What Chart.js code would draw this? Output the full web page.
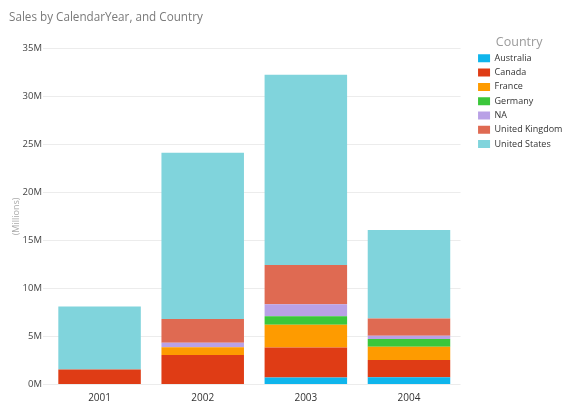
<!DOCTYPE html>
<html>
<head>
<meta charset="utf-8">
<script src="https://cdn.jsdelivr.net/npm/chart.js@4/dist/chart.umd.min.js"></script>
<style>
  html, body { margin: 0; padding: 0; background: #fff; }
  #wrap { position: relative; width: 573px; height: 411px; }
</style>
</head>
<body>
<div id="wrap"><canvas id="grafico"></canvas></div>
<script>
// valores em milhões
var anos       = ['2001', '2002', '2003', '2004'];
var australia  = [0, 0, 0.73, 0.75];
var canada     = [1.55, 3.08, 3.12, 1.81];
var franca     = [0, 0.79, 2.36, 1.38];
var alemanha   = [0, 0, 0.9, 0.8];
var na         = [0, 0.49, 1.25, 0.34];
var reinoUnido = [0, 2.46, 4.08, 1.8];
var eua        = [6.58, 17.32, 19.83, 9.22];
var ticksY     = [0, 5, 10, 15, 20, 25, 30, 35];

var FONTE = "'Segoe UI', 'Open Sans', sans-serif";

function serie(label, data, cor) {
    return {
        label: label,
        data: data,
        backgroundColor: cor,
        borderWidth: 0,
        categoryPercentage: 0.8,
        barPercentage: 1.0
    };
}

(function () {
    'use strict';

    var canvas = document.getElementById('grafico');

    new Chart(canvas, {
        type: 'bar',
        data: {
            labels: anos,
            datasets: [
                serie('Australia', australia, '#0fb5ec'),
                serie('Canada', canada, '#df3c15'),
                serie('France', franca, '#fe9b00'),
                serie('Germany', alemanha, '#3bc73b'),
                serie('NA', na, '#b9a1e6'),
                serie('United Kingdom', reinoUnido, '#df6a52'),
                serie('United States', eua, '#80d4dc')
            ]
        },
        options: {
            responsive: true,
            maintainAspectRatio: false,
            animation: false,
            layout: { padding: { left: 9, right: 7.5, top: 0, bottom: 6.5 } },
            plugins: {
                title: {
                    display: true,
                    text: 'Sales by CalendarYear, and Country',
                    align: 'start',
                    color: '#7a7a7a',
                    font: { family: FONTE, size: 11.7, weight: 'normal', lineHeight: 1.2 },
                    padding: { top: 10.5, bottom: 23.9 }
                },
                legend: {
                    position: 'right',
                    align: 'start',
                    title: {
                        display: true,
                        text: 'Country',
                        color: '#9a9a9a',
                        font: { family: FONTE, size: 12.5, lineHeight: 1.0 },
                        padding: { top: 36, bottom: 0 }
                    },
                    labels: {
                        boxWidth: 12,
                        boxHeight: 8,
                        padding: 5.3,
                        color: '#333',
                        font: { family: FONTE, size: 9 }
                    }
                },
                tooltip: { enabled: false }
            },
            scales: {
                x: {
                    stacked: true,
                    grid: { display: false },
                    border: { display: false },
                    ticks: {
                        color: '#333',
                        padding: 0,
                        font: { family: FONTE, size: 10 }
                    }
                },
                y: {
                    stacked: true,
                    min: 0,
                    max: 35,
                    afterBuildTicks: function (scale) {
                        scale.ticks = ticksY.map(function (v) { return { value: v }; });
                    },
                    afterFit: function (scale) { scale.width = 39; },
                    grid: { color: '#ececec', tickLength: 5, drawTicks: true },
                    border: { display: false },
                    title: {
                        display: true,
                        text: '(Millions)',
                        color: '#aaa',
                        font: { family: FONTE, size: 9 },
                        padding: { top: 2, bottom: 0 }
                    },
                    ticks: {
                        color: '#444',
                        padding: 1,
                        font: { family: FONTE, size: 9.5 },
                        callback: function (v) { return v + 'M'; }
                    }
                },
                // eixo vazio só para afastar a legenda da área do gráfico
                espaco: {
                    type: 'linear',
                    position: 'right',
                    display: true,
                    grid: { display: false },
                    border: { display: false },
                    ticks: { display: false },
                    afterFit: function (scale) { scale.width = 12.2; }
                }
            }
        }
    });
})();
</script>
</body>
</html>
